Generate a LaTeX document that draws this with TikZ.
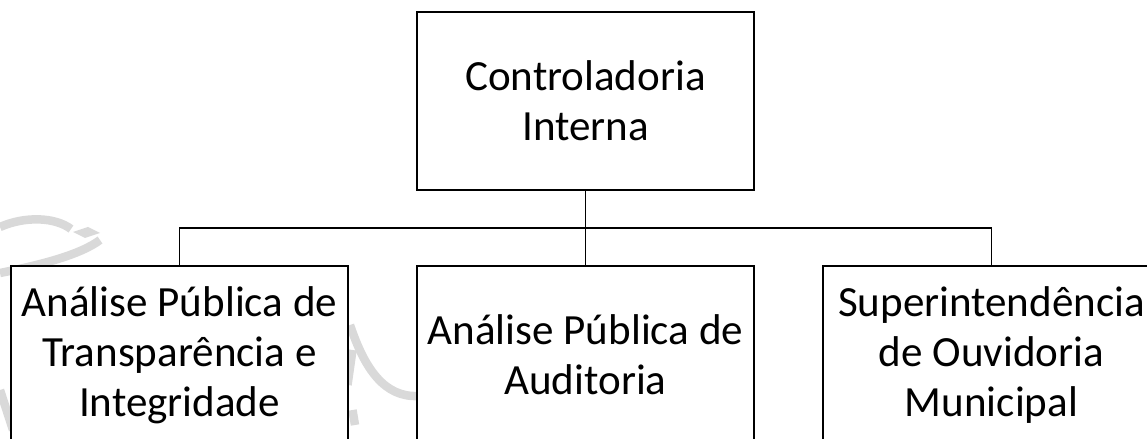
\documentclass[tikz,border=0pt]{standalone}
\usepackage{fontspec}
\setmainfont{Carlito}
\usetikzlibrary{calc}

\begin{document}
\begin{tikzpicture}[line width=1.1pt]
\tikzstyle{caixa} = [draw=black,fill=white,line width=1.1pt,minimum width=6.74cm,minimum height=3.56cm,inner sep=1pt,align=center,font=\fontsize{24.5}{28.5}\selectfont]
\tikzstyle{marca} = [draw=gray!30,line width=0.17cm]
\useasboundingbox (0,0) rectangle (22.94,-8.78);
\clip (0,0) rectangle (22.94,-8.78);

%%%%%% Marca d'agua
\draw[marca] (0,-4.54) .. controls (0.5,-4.32) and (1.1,-4.34) .. (1.42,-4.58);
\fill[gray!30] (1.46,-4.64) -- (1.76,-4.54) -- (2.0,-4.66) -- (1.70,-4.76) -- cycle;
\draw[marca] (2.0,-4.80) .. controls (1.6,-5.10) and (0.8,-5.30) .. (0,-5.46);
\draw[marca] (0,-7.80) -- (0.26,-8.60);
\draw[marca] (7.0,-6.50) .. controls (7.3,-7.40) and (7.7,-7.95) .. (8.36,-7.92);
\draw[marca] (7.05,-7.00) -- (6.95,-7.70);
\draw[marca] (7.05,-8.20) -- (7.10,-8.50);

%%%%%% Caixas
\node[caixa] (ci) at (11.71,-2.02) {Controladoria\\Interna};
\node[caixa] (apti) at (3.59,-7.10) {Análise Pública de\\Transparência e\\Integridade};
\node[caixa] (apa) at (11.71,-7.10) {Análise Pública de\\Auditoria};
\node[caixa] (som) at (19.83,-7.10) {Superintendência\\de Ouvidoria\\Municipal};

%%%%%% Linhas
\coordinate (barra) at (11.71,-4.56);
\draw (ci.south) -- (apa.north);
\draw (apti.north) |- (barra) -| (som.north);
\end{tikzpicture}
\end{document}
